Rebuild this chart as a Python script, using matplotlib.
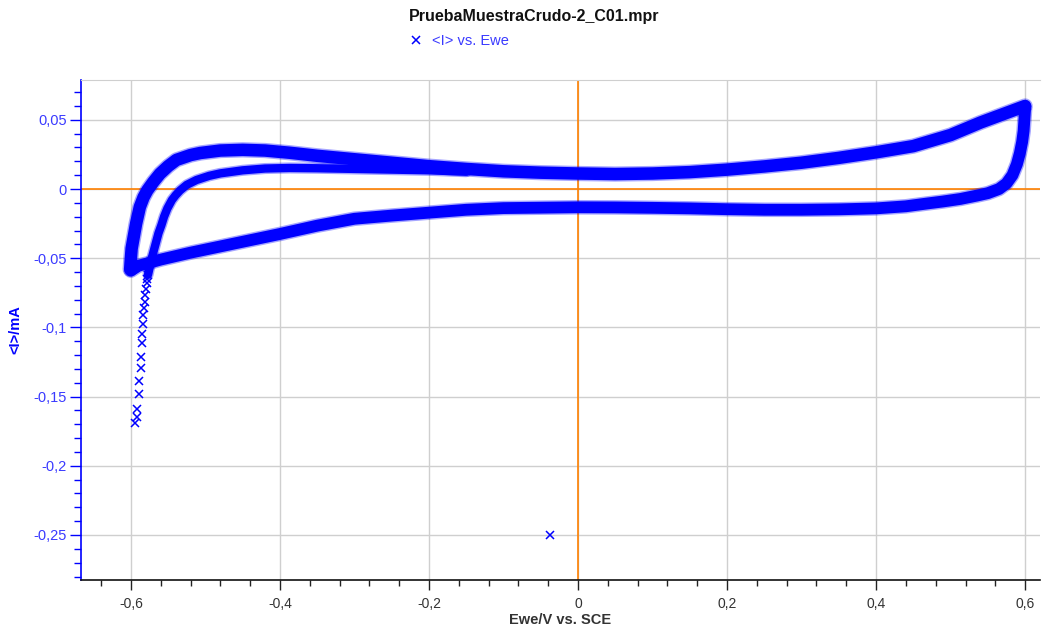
import matplotlib
matplotlib.use("Agg")
import matplotlib.pyplot as plt
from matplotlib.ticker import AutoMinorLocator, FuncFormatter
from matplotlib.lines import Line2D

plt.rcParams['font.family'] = ['Liberation Sans', 'DejaVu Sans']

# ---------------- data ----------------
# first recorded point
outlier_E = [-0.038]
outlier_I = [-0.250]

# initial transient at the start of the scan
tail_E = [-0.5946, -0.5923, -0.5923, -0.5889, -0.5889, -0.587, -0.587, -0.5852, -0.5852,
          -0.5835, -0.5835, -0.5826, -0.5816, -0.5808, -0.5799, -0.579, -0.5782, -0.5772]
tail_I = [-0.1693, -0.1645, -0.159, -0.1483, -0.1387, -0.1295, -0.1211, -0.1115, -0.105,
          -0.0978, -0.091, -0.0862, -0.0815, -0.0766, -0.072, -0.0681, -0.065, -0.062]

# first anodic sweep (inner curve)
inner_E = [-0.577, -0.5745, -0.572, -0.569, -0.566, -0.563, -0.559, -0.5555, -0.551, -0.545,
           -0.540, -0.534, -0.525, -0.512, -0.495, -0.48, -0.45, -0.42, -0.387, -0.35,
           -0.30, -0.25, -0.20, -0.15]
inner_I = [-0.062, -0.056, -0.050, -0.044, -0.038, -0.032, -0.026, -0.020, -0.014, -0.008,
           -0.0045, -0.001, 0.003, 0.0065, 0.0095, 0.0113, 0.0135, 0.0148, 0.0152, 0.0150,
           0.0145, 0.0140, 0.0135, 0.0125]

# anodic sweeps (outer upper band)
anodic_E = [-0.601, -0.600, -0.599, -0.597, -0.595, -0.593, -0.5905, -0.588, -0.583, -0.578,
            -0.570, -0.561, -0.550, -0.539, -0.52, -0.507, -0.48, -0.45, -0.42, -0.387,
            -0.35, -0.30, -0.25, -0.20, -0.15, -0.10, -0.05, 0.00, 0.05, 0.10,
            0.15, 0.20, 0.25, 0.30, 0.35, 0.40, 0.45, 0.475, 0.50, 0.52,
            0.54, 0.56, 0.58, 0.600]
anodic_I = [-0.058, -0.050, -0.043, -0.037, -0.031, -0.025, -0.019, -0.013, -0.006, -0.001,
            0.005, 0.011, 0.0165, 0.021, 0.0245, 0.026, 0.0278, 0.0283, 0.0278, 0.0262,
            0.024, 0.0215, 0.019, 0.0165, 0.0145, 0.0128, 0.0118, 0.0112, 0.0108, 0.0112,
            0.0122, 0.0140, 0.0163, 0.019, 0.0225, 0.0265, 0.031, 0.035, 0.039, 0.0435,
            0.048, 0.052, 0.056, 0.060]

# cathodic sweeps (lower band)
cathodic_E = [0.600, 0.599, 0.598, 0.596, 0.593, 0.589, 0.583, 0.575, 0.565, 0.550,
              0.535, 0.513, 0.490, 0.468, 0.44, 0.40, 0.35, 0.30, 0.25, 0.20,
              0.15, 0.10, 0.05, 0.00, -0.05, -0.10, -0.15, -0.20, -0.25, -0.30,
              -0.35, -0.40, -0.44, -0.48, -0.52, -0.56, -0.59, -0.600]
cathodic_I = [0.058, 0.050, 0.042, 0.034, 0.026, 0.018, 0.010, 0.004, 0.000, -0.003,
              -0.0048, -0.0072, -0.009, -0.0105, -0.0125, -0.0140, -0.0147, -0.0150, -0.0150, -0.0146,
              -0.0140, -0.0136, -0.0133, -0.0132, -0.0135, -0.0138, -0.0150, -0.0171, -0.0192, -0.0215,
              -0.0265, -0.0325, -0.0370, -0.0415, -0.0460, -0.0510, -0.0555, -0.059]

x_ticks = [-0.6, -0.4, -0.2, 0, 0.2, 0.4, 0.6]
y_ticks = [-0.25, -0.2, -0.15, -0.1, -0.05, 0, 0.05]

title = "PruebaMuestraCrudo-2_C01.mpr"
legend_label = "<I> vs. Ewe"
x_label = "Ewe/V vs. SCE"
y_label = "<I>/mA"

# ---------------- figure ----------------
BLUE = '#0000ff'
fig = plt.figure(figsize=(10.42, 6.30), dpi=100)
ax = fig.add_axes([0.0777, 0.0794, 0.9204, 0.7937])

ax.set_xlim(-0.667, 0.620)
ax.set_ylim(-0.2825, 0.0788)

# grid + orange zero lines
ax.set_xticks(x_ticks)
ax.set_yticks(y_ticks)
ax.grid(True, which='major', color='#cfcfcf', lw=1.0, zorder=0)
ax.axhline(0, color='#ff8000', lw=1.2, zorder=2)
ax.axvline(0, color='#ff8000', lw=1.2, zorder=2)

# dense bands of overlapping markers
def band(E, I, core, halo):
    ax.plot(E, I, color=BLUE, lw=halo, alpha=0.35, solid_joinstyle='round',
            solid_capstyle='round', zorder=3)
    ax.plot(E, I, color=BLUE, lw=core, solid_joinstyle='round',
            solid_capstyle='round', zorder=4)

band(cathodic_E, cathodic_I, 8.5, 10.5)
band(anodic_E, anodic_I, 9.0, 11.0)
band(inner_E, inner_I, 6.0, 8.0)

ax.plot(tail_E, tail_I, ls='none', marker='x', ms=5.5, mew=1.1, color=BLUE, zorder=5)
ax.plot(outlier_E, outlier_I, ls='none', marker='x', ms=5.5, mew=1.1, color=BLUE, zorder=5)

# axes styling
fmt = FuncFormatter(lambda v, p: "0" if abs(v) < 1e-9 else f"{round(v, 4):g}".replace('.', ','))
ax.xaxis.set_major_formatter(fmt)
ax.yaxis.set_major_formatter(fmt)
ax.xaxis.set_minor_locator(AutoMinorLocator(5))
ax.yaxis.set_minor_locator(AutoMinorLocator(5))

ax.tick_params(axis='x', which='major', direction='out', length=7, width=1, color='#222222',
               labelcolor='#333333', labelsize=10, pad=5)
ax.tick_params(axis='x', which='minor', direction='out', length=4, width=1, color='#222222')
ax.tick_params(axis='y', which='major', direction='out', length=8, width=1, color=BLUE,
               labelcolor='#3a3aff', labelsize=10.5, pad=2)
ax.tick_params(axis='y', which='minor', direction='out', length=5, width=1, color=BLUE)

ax.spines['left'].set_color(BLUE)
ax.spines['left'].set_linewidth(1.2)
ax.spines['bottom'].set_color('#111111')
ax.spines['bottom'].set_linewidth(1.2)
ax.spines['top'].set_color('#cfcfcf')
ax.spines['right'].set_visible(False)

ax.set_xlabel(x_label, fontsize=10.5, fontweight='bold', color='#333333', labelpad=2)
ax.set_ylabel(y_label, fontsize=10.5, fontweight='bold', color=BLUE, labelpad=8)

fig.text(0.513, 0.974, title, ha='center', va='center', fontsize=11.5,
         fontweight='bold', color='#111111')

handle = Line2D([], [], ls='none', marker='x', ms=6, mew=1.1, color=BLUE)
leg = fig.legend([handle], [legend_label], loc='center', bbox_to_anchor=(0.44, 0.935),
                 frameon=False, fontsize=10.5, handlelength=1.0, handletextpad=0.6,
                 borderaxespad=0, borderpad=0)
for t in leg.get_texts():
    t.set_color('#3a3aff')

fig.savefig("out.png", dpi=100)
